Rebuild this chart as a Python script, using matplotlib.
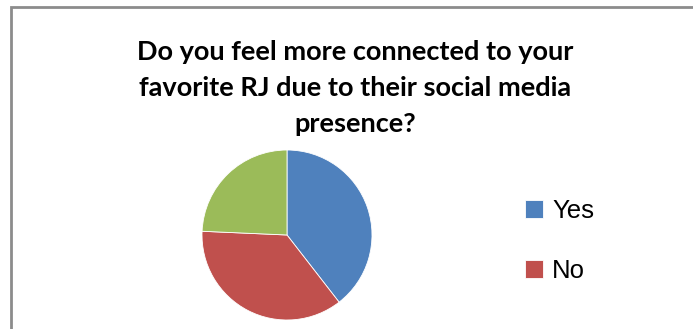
import matplotlib.pyplot as plt
from matplotlib.patches import Rectangle

# answers to the survey question
labels = ["Yes", "No", "Maybe"]
shares = [39.5, 36.2, 24.3]
colors = ["#4f81bd", "#c0504d", "#9bbb59"]

title = "Do you feel more connected to your\nfavorite RJ due to their social media\npresence?"

plt.rcParams["font.family"] = ["Lato", "DejaVu Sans"]

fig = plt.figure(figsize=(6.93, 3.29), dpi=100)
fig.patch.set_facecolor("white")

# chart frame, cropped at right and bottom
W, H = 693, 329
fig.add_artist(Rectangle((11 / W, -0.1), 1.1, (H - 7) / H + 0.1,
                         transform=fig.transFigure, fill=False,
                         edgecolor="#8c8c8c", linewidth=2))

fig.text(355 / W, 1 - 88 / H, title, ha="center", va="center",
         fontsize=19.5, fontweight="bold", linespacing=1.62, color="#000000")

# pie centred at about (287, 235) px, radius 85 px
r = 85
ax = fig.add_axes([(287 - r) / W, 1 - (235 + r) / H, 2 * r / W, 2 * r / H])
wedges, _ = ax.pie(shares, colors=colors, startangle=90, counterclock=False,
                   radius=1.0, wedgeprops=dict(edgecolor="white", linewidth=0.6))
ax.set_xlim(-1, 1)
ax.set_ylim(-1, 1)
ax.set_aspect("equal")
ax.axis("off")

leg = fig.legend(wedges[:2], labels[:2], loc="upper left",
                 bbox_to_anchor=(525 / W, 1 - 199 / H), frameon=False,
                 prop={"family": "Liberation Sans", "size": 18.5},
                 handlelength=0.7, handleheight=0.7, borderpad=0,
                 borderaxespad=0, handletextpad=0.35, labelspacing=1.4)

fig.savefig("out.png", dpi=100)
